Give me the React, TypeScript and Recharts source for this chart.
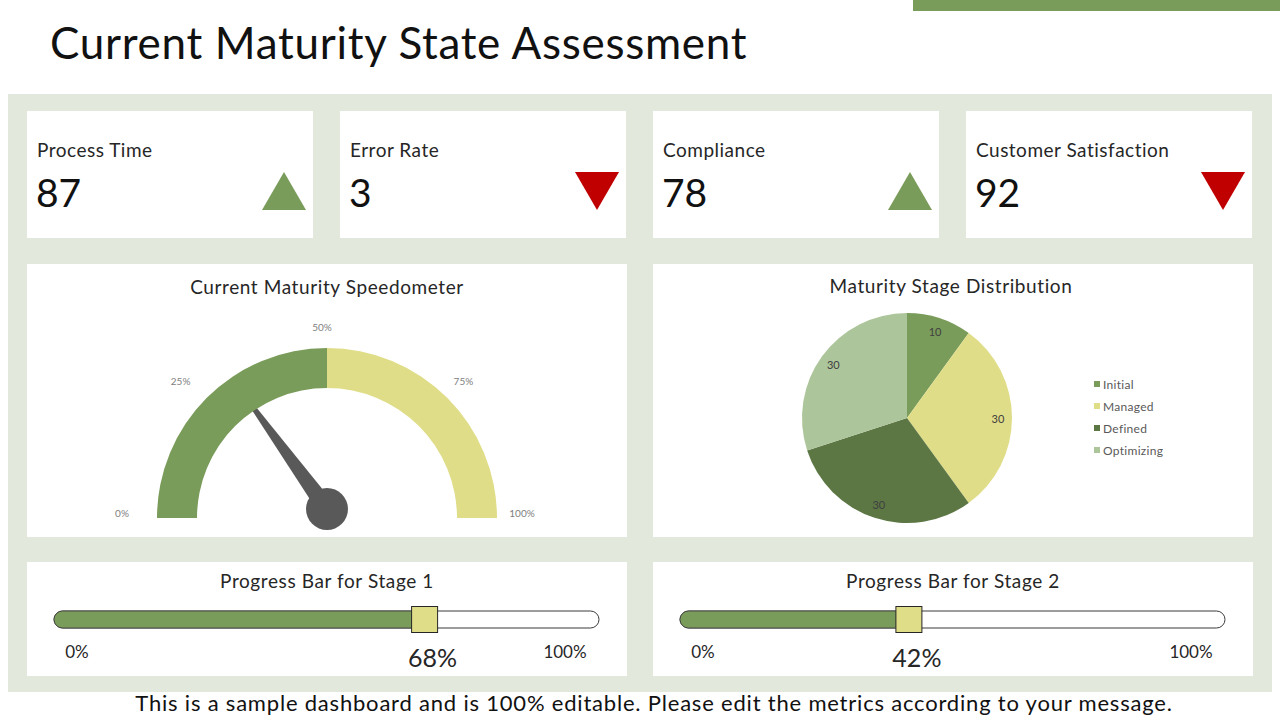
import React from 'react';
import { PieChart, Pie, Cell, BarChart, Bar, XAxis, YAxis, LabelList, Legend, Customized } from 'recharts';

const FONT = 'Lato, "DejaVu Sans", sans-serif';

const GREEN = '#7a9c5a';
const YELLOW = '#e0dd88';
const DARK_GREEN = '#5c7744';
const LIGHT_GREEN = '#adc59a';
const RED = '#c00000';
const PANEL_BG = '#e2e8dc';

const kpiLabels = ['Process Time', 'Error Rate', 'Compliance', 'Customer Satisfaction'];
const kpiValues = [87, 3, 78, 92];
const kpiTrends = ['up', 'down', 'up', 'down'];

const gaugeBands = ['Low', 'High'];
const gaugeBandValues = [50, 50];
const gaugeBandColors = [GREEN, YELLOW];
const gaugeTicks = [0, 25, 50, 75, 100];
const gaugeValue = 30;

const stageNames = ['Initial', 'Managed', 'Defined', 'Optimizing'];
const stageCounts = [10, 30, 30, 30];
const stageColors = [GREEN, YELLOW, DARK_GREEN, LIGHT_GREEN];

const progressTitles = ['Progress Bar for Stage 1', 'Progress Bar for Stage 2'];
const progressValues = [68, 42];
const progressTicks = [0, 100];

const NO_MARGIN = { top: 0, right: 0, bottom: 0, left: 0 };

// speedometer geometry (panel coordinates)
const G_CX = 300;
const G_CY = 254;
const G_IN = 130;
const G_OUT = 170;

const pctPoint = (rx: number, ry: number, pct: number, cx = G_CX, cy = G_CY) => {
  const a = Math.PI * (1 - pct / 100);
  return [cx + rx * Math.cos(a), cy - ry * Math.sin(a)];
};

const panelTitle: React.CSSProperties = {
  position: 'absolute',
  left: 0,
  width: '100%',
  textAlign: 'center',
  fontSize: 19,
  letterSpacing: 0.6,
  color: '#262626',
  zIndex: 1,
};

function KpiCard({ label, value, trend, left }: { label: string; value: number; trend: string; left: number }) {
  const up = trend === 'up';
  return (
    <div style={{ position: 'absolute', left, top: 111, width: 286, height: 127, background: '#fff' }}>
      <div style={{ position: 'absolute', left: 10, top: 27, fontSize: 19, letterSpacing: 0.5, color: '#262626' }}>{label}</div>
      <div style={{ position: 'absolute', left: 9, top: 58, fontSize: 39, color: '#111' }}>{value}</div>
      <svg style={{ position: 'absolute', left: 235, top: 61 }} width={44} height={38}>
        <polygon points={up ? '22,0 44,38 0,38' : '0,0 44,0 22,38'} fill={up ? GREEN : RED} />
      </svg>
    </div>
  );
}

function GaugeOverlay() {
  const hubX = G_CX;
  const hubY = G_CY - 9;
  const a = Math.PI * (1 - gaugeValue / 100);
  const ux = Math.cos(a);
  const uy = -Math.sin(a);
  const tipX = hubX + 144 * ux;
  const tipY = hubY + 144 * uy;
  // perpendicular to the needle direction
  const nx = -uy;
  const ny = ux;
  const base = 9;
  const tip = 1.5;
  const pts = [
    [tipX + nx * tip, tipY + ny * tip],
    [hubX + nx * base, hubY + ny * base],
    [hubX - nx * base, hubY - ny * base],
    [tipX - nx * tip, tipY - ny * tip],
  ]
    .map((p) => p.join(','))
    .join(' ');
  return (
    <g>
      {[25, 75].map((t) => {
        const [x1, y1] = pctPoint(G_OUT, G_OUT, t);
        const [x2, y2] = pctPoint(G_OUT - 22, G_OUT - 22, t);
        return <line key={t} x1={x1} y1={y1} x2={x2} y2={y2} stroke="rgba(255,255,255,0.6)" strokeWidth={1.5} />;
      })}
      {gaugeTicks.map((t) => {
        const [x, y] = pctPoint(200, 186, t, G_CX - 5, G_CY - 5);
        return (
          <text key={t} x={x} y={y} textAnchor="middle" dominantBaseline="central" fontSize={10} fill="#808080" fontFamily={FONT}>
            {t}%
          </text>
        );
      })}
      <polygon points={pts} fill="#595959" />
      <circle cx={hubX} cy={hubY} r={21} fill="#595959" />
    </g>
  );
}

function Speedometer() {
  const data = gaugeBands.map((name, i) => ({ name, value: gaugeBandValues[i] }));
  return (
    <div style={{ position: 'absolute', left: 27, top: 264, width: 600, height: 273, background: '#fff' }}>
      <div style={{ ...panelTitle, top: 11 }}>Current Maturity Speedometer</div>
      <PieChart width={600} height={273} margin={NO_MARGIN} style={{ position: 'absolute', left: 0, top: 0 }}>
        <Pie
          data={data}
          dataKey="value"
          nameKey="name"
          cx={G_CX}
          cy={G_CY}
          startAngle={180}
          endAngle={0}
          innerRadius={G_IN}
          outerRadius={G_OUT}
          stroke="none"
          isAnimationActive={false}
        >
          {data.map((d, i) => (
            <Cell key={d.name} fill={gaugeBandColors[i]} />
          ))}
        </Pie>
        <Customized component={GaugeOverlay} />
      </PieChart>
    </div>
  );
}

const RAD = Math.PI / 180;

function StageLabel({ cx, cy, midAngle, value }: any) {
  const r = 91;
  const x = cx + r * Math.cos(-midAngle * RAD);
  const y = cy + r * Math.sin(-midAngle * RAD);
  return (
    <text x={x} y={y} textAnchor="middle" dominantBaseline="central" fontSize={11} fill="#404040" fontFamily={FONT}>
      {value}
    </text>
  );
}

function StageLegend({ payload }: any) {
  const items = [...(payload || [])].sort((a: any, b: any) => stageNames.indexOf(a.value) - stageNames.indexOf(b.value));
  return (
    <div style={{ fontFamily: FONT }}>
      {items.map((p: any) => (
        <div key={p.value} style={{ display: 'flex', alignItems: 'center', height: 22, fontSize: 12, letterSpacing: 0.3, color: '#595959' }}>
          <span style={{ width: 6, height: 6, background: p.color, marginRight: 3 }} />
          {p.value}
        </div>
      ))}
    </div>
  );
}

function StageDistribution() {
  const data = stageNames.map((name, i) => ({ name, value: stageCounts[i] }));
  return (
    <div style={{ position: 'absolute', left: 653, top: 264, width: 600, height: 273, background: '#fff' }}>
      <div style={{ ...panelTitle, left: -2, top: 10 }}>Maturity Stage Distribution</div>
      <PieChart width={600} height={273} margin={NO_MARGIN} style={{ position: 'absolute', left: 0, top: 0 }}>
        <Pie
          data={data}
          dataKey="value"
          nameKey="name"
          cx={254}
          cy={154}
          outerRadius={105}
          startAngle={90}
          endAngle={-270}
          stroke="none"
          label={StageLabel}
          labelLine={false}
          isAnimationActive={false}
        >
          {data.map((d, i) => (
            <Cell key={d.name} fill={stageColors[i]} />
          ))}
        </Pie>
        <Legend
          layout="vertical"
          content={<StageLegend />}
          wrapperStyle={{ left: 441, top: 109, width: 120, bottom: 'auto', right: 'auto' }}
        />
      </PieChart>
    </div>
  );
}

function ProgressTick({ x, y, payload }: any) {
  const v = payload.value;
  const shift = v === 0 ? 23 : -34;
  return (
    <text x={x + shift} y={y + 22} textAnchor="middle" fontSize={17} fill="#262626" fontFamily={FONT}>
      {v}%
    </text>
  );
}

function ProgressMarker({ x, y, width, height, value }: any) {
  const mx = x + width;
  const my = y + height / 2;
  return (
    <g>
      <rect x={mx - 13} y={my - 13} width={26} height={26} fill={YELLOW} stroke="#262626" strokeWidth={1} />
      <text x={mx + 8} y={my + 37} textAnchor="middle" dominantBaseline="central" fontSize={25} fill="#262626" fontFamily={FONT}>
        {value}%
      </text>
    </g>
  );
}

function ProgressPanel({ title, value, left }: { title: string; value: number; left: number }) {
  const data = [{ stage: title, value }];
  return (
    <div style={{ position: 'absolute', left, top: 562, width: 600, height: 114, background: '#fff' }}>
      <div style={{ ...panelTitle, top: 7 }}>{title}</div>
      <BarChart
        width={600}
        height={114}
        layout="vertical"
        data={data}
        margin={{ top: 49, right: 28, bottom: 0, left: 27 }}
        barCategoryGap={0}
        style={{ position: 'absolute', left: 0, top: 0 }}
      >
        <XAxis
          type="number"
          domain={[0, 100]}
          ticks={progressTicks}
          interval={0}
          axisLine={false}
          tickLine={false}
          height={48}
          tick={<ProgressTick />}
        />
        <YAxis type="category" dataKey="stage" hide />
        <Bar
          dataKey="value"
          fill={GREEN}
          stroke="#3a3a3a"
          strokeWidth={0.8}
          radius={[8.5, 0, 0, 8.5]}
          background={{ fill: '#fff', stroke: '#3a3a3a', strokeWidth: 1, radius: 8.5 }}
          isAnimationActive={false}
        >
          <LabelList dataKey="value" content={<ProgressMarker />} />
        </Bar>
      </BarChart>
    </div>
  );
}

export default function App() {
  return (
    <div
      style={{
        position: 'absolute',
        left: 0,
        top: 0,
        width: 1280,
        height: 720,
        overflow: 'hidden',
        background: '#fff',
        fontFamily: FONT,
      }}
    >
      <div style={{ position: 'absolute', left: 913, top: 0, width: 367, height: 11, background: GREEN }} />
      <div style={{ position: 'absolute', left: 50, top: 16, fontSize: 44, letterSpacing: 0.7, color: '#111', whiteSpace: 'nowrap' }}>
        Current Maturity State Assessment
      </div>
      <div style={{ position: 'absolute', left: 8, top: 94, width: 1264, height: 598, background: PANEL_BG }} />
      {kpiLabels.map((label, i) => (
        <KpiCard key={label} label={label} value={kpiValues[i]} trend={kpiTrends[i]} left={27 + i * 313} />
      ))}
      <Speedometer />
      <StageDistribution />
      {progressTitles.map((t, i) => (
        <ProgressPanel key={t} title={t} value={progressValues[i]} left={27 + i * 626} />
      ))}
      <div
        style={{
          position: 'absolute',
          left: 0,
          width: 1308,
          top: 689,
          textAlign: 'center',
          fontSize: 22,
          letterSpacing: 0.8,
          color: '#111',
          whiteSpace: 'nowrap',
        }}
      >
        This is a sample dashboard and is 100% editable. Please edit the metrics according to your message.
      </div>
    </div>
  );
}
